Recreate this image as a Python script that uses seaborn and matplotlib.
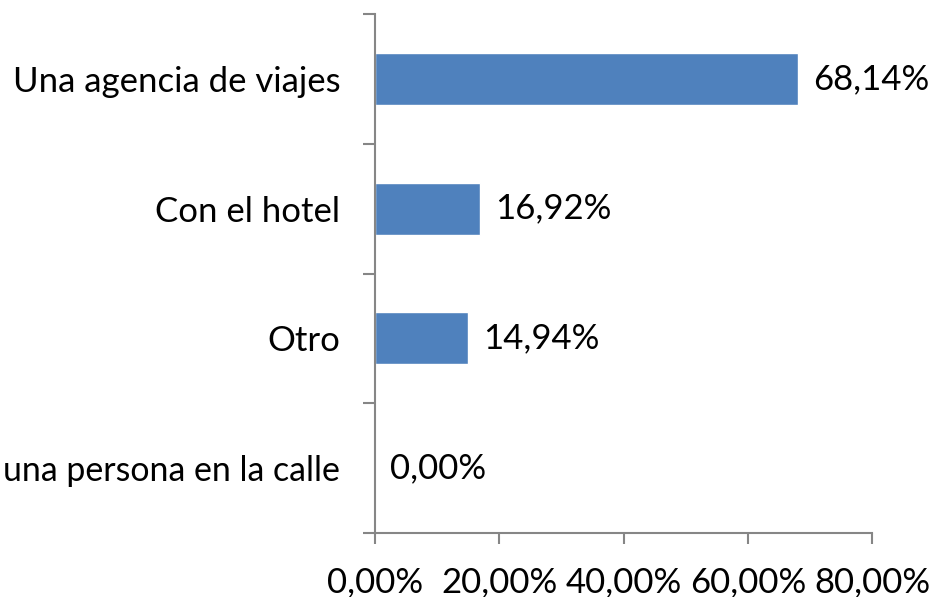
import matplotlib
matplotlib.use("Agg")
import matplotlib.pyplot as plt
import matplotlib.ticker as mticker
import seaborn as sns
import pandas as pd

categorias = ["Una agencia de viajes", "Con el hotel", "Otro", "una persona en la calle"]
porcentajes = [68.14, 16.92, 14.94, 0.00]
ticks_x = [0, 20, 40, 60, 80]

sns.set_theme(style="white")
plt.rcParams["font.family"] = ["Lato", "DejaVu Sans"]

def fmt_pct(v):
    return f"{v:.2f}%".replace(".", ",")

df = pd.DataFrame({"categoria": categorias, "porcentaje": porcentajes})

fig = plt.figure(figsize=(9.31, 5.97), dpi=100)
ax = fig.add_axes([375 / 931, 1 - 533 / 597, (872 - 375) / 931, (533 - 14) / 597])

sns.barplot(data=df, y="categoria", x="porcentaje", orient="h", color="#4F81BD",
            saturation=1, width=0.4, ax=ax)

ax.set_xlim(0, 80)
ax.set_ylim(len(categorias) - 0.5, -0.5)
ax.set_xlabel("")
ax.set_ylabel("")

ax.set_xticks(ticks_x)
ax.xaxis.set_major_formatter(mticker.FuncFormatter(lambda v, p: fmt_pct(v)))

# category labels at the centres, tick marks at the boundaries
ax.set_yticks(range(len(categorias)))
ax.set_yticklabels(categorias)
ax.set_yticks([i - 0.5 for i in range(len(categorias) + 1)], minor=True)

grey = "#868686"
for side in ("top", "right"):
    ax.spines[side].set_visible(False)
for side in ("left", "bottom"):
    ax.spines[side].set_color(grey)
    ax.spines[side].set_linewidth(1.5)

ax.tick_params(axis="y", which="major", length=0, pad=25, labelsize=25, labelcolor="black")
ax.tick_params(axis="y", which="minor", left=True, length=8.5, width=1.5, color=grey)
ax.tick_params(axis="x", which="major", bottom=True, length=8, width=1.5, color=grey,
               pad=16, labelsize=25, labelcolor="black")

# the longest category label is set a touch smaller so it stays on the canvas
ax.get_yticklabels()[-1].set_fontsize(24.4)

for i, v in enumerate(porcentajes):
    ax.annotate(fmt_pct(v), xy=(v, i), xytext=(11, 0), textcoords="offset points",
                ha="left", va="center", fontsize=25, color="black")

fig.savefig("out.png", dpi=100, facecolor="white")
